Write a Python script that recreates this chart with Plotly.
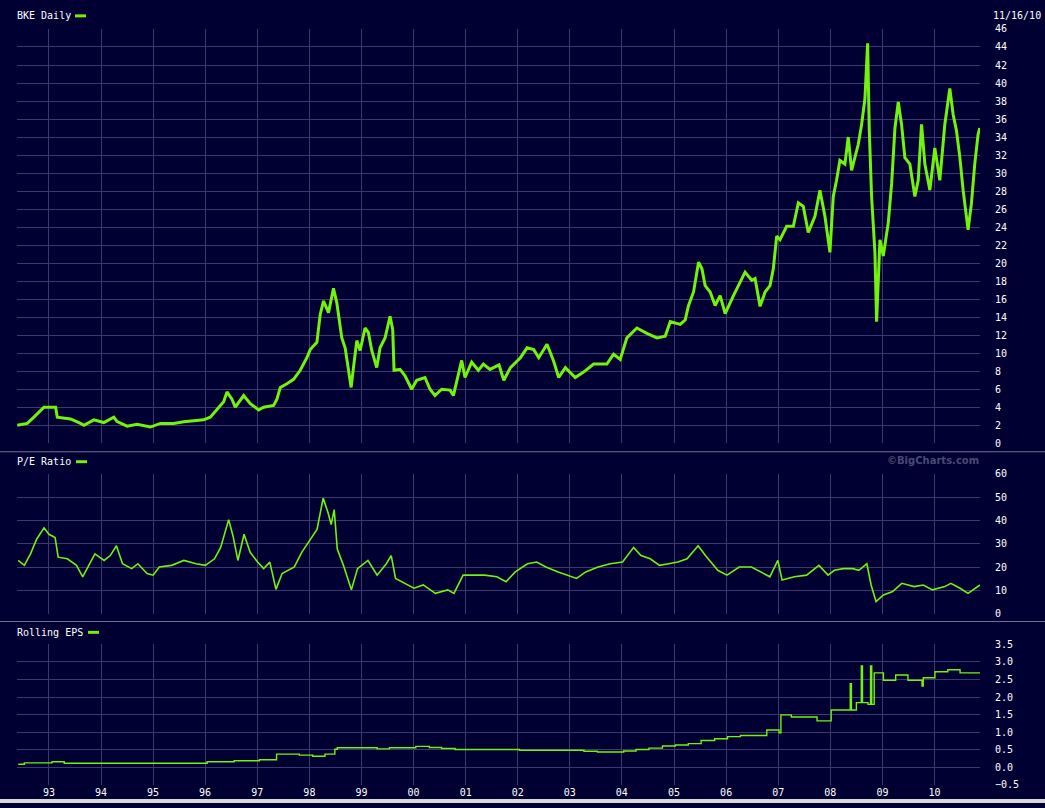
import plotly.graph_objects as go
from datetime import datetime

# ---------------- data ----------------
price_t = [1992.393, 1992.585, 1992.712, 1992.840, 1992.904, 1993.032, 1993.128, 1993.160, 1993.415, 1993.607,
           1993.671, 1993.863, 1994.054, 1994.246, 1994.310, 1994.502, 1994.693, 1994.949, 1995.141, 1995.396,
           1995.588, 1995.780, 1995.971, 1996.099, 1996.227, 1996.355, 1996.419, 1996.514, 1996.578, 1996.738,
           1996.866, 1997.026, 1997.121, 1997.313, 1997.377, 1997.441, 1997.569, 1997.696, 1997.824, 1997.952,
           1998.016, 1998.144, 1998.208, 1998.272, 1998.367, 1998.463, 1998.527, 1998.559, 1998.623, 1998.687,
           1998.751, 1998.802, 1998.847, 1998.911, 1998.974, 1999.070, 1999.134, 1999.198, 1999.294, 1999.358,
           1999.454, 1999.550, 1999.601, 1999.626, 1999.741, 1999.837, 1999.965, 2000.061, 2000.220, 2000.316,
           2000.412, 2000.540, 2000.700, 2000.764, 2000.923, 2000.987, 2001.115, 2001.243, 2001.339, 2001.466,
           2001.640, 2001.732, 2001.859, 2002.051, 2002.179, 2002.307, 2002.403, 2002.562, 2002.690, 2002.786,
           2002.914, 2003.105, 2003.265, 2003.457, 2003.712, 2003.840, 2003.968, 2004.096, 2004.288, 2004.479,
           2004.671, 2004.831, 2004.927, 2005.118, 2005.214, 2005.278, 2005.374, 2005.470, 2005.534, 2005.597,
           2005.693, 2005.789, 2005.885, 2005.981, 2006.141, 2006.268, 2006.364, 2006.492, 2006.556, 2006.652,
           2006.748, 2006.843, 2006.907, 2006.971, 2007.035, 2007.163, 2007.291, 2007.387, 2007.482, 2007.578,
           2007.706, 2007.802, 2007.898, 2007.994, 2008.058, 2008.121, 2008.185, 2008.281, 2008.345, 2008.409,
           2008.537, 2008.601, 2008.665, 2008.716, 2008.748, 2008.792, 2008.856, 2008.888, 2008.952, 2009.016,
           2009.112, 2009.176, 2009.240, 2009.304, 2009.367, 2009.431, 2009.527, 2009.623, 2009.687, 2009.751,
           2009.815, 2009.911, 2010.006, 2010.102, 2010.198, 2010.294, 2010.358, 2010.422, 2010.486, 2010.550,
           2010.613, 2010.645, 2010.709, 2010.773, 2010.837, 2010.869]
price_v = [2.0, 2.2, 2.9, 3.7, 4.0, 4.0, 4.0, 2.9, 2.7, 2.2,
           2.0, 2.6, 2.3, 2.9, 2.4, 1.9, 2.1, 1.8, 2.2, 2.2,
           2.4, 2.5, 2.6, 2.9, 3.7, 4.6, 5.7, 4.9, 4.0, 5.3,
           4.4, 3.7, 4.0, 4.2, 4.9, 6.2, 6.6, 7.1, 8.1, 9.5,
           10.4, 11.2, 14.3, 15.8, 14.5, 17.2, 15.6, 14.3, 11.7, 10.6,
           8.4, 6.2, 8.4, 11.4, 10.3, 12.8, 12.3, 10.3, 8.4, 10.6,
           11.7, 14.1, 12.6, 8.1, 8.2, 7.5, 6.0, 7.0, 7.3, 6.0,
           5.3, 6.0, 5.9, 5.3, 9.2, 7.3, 9.0, 8.1, 8.8, 8.2,
           8.7, 7.0, 8.4, 9.5, 10.6, 10.4, 9.5, 11.0, 9.1, 7.3,
           8.4, 7.3, 7.9, 8.8, 8.8, 9.9, 9.3, 11.7, 12.8, 12.2,
           11.7, 11.9, 13.5, 13.2, 13.7, 15.3, 16.8, 20.1, 19.4, 17.5,
           16.8, 15.3, 16.4, 14.4, 16.4, 17.9, 19.0, 18.1, 18.3, 15.2,
           16.8, 17.5, 19.4, 23.0, 22.6, 24.1, 24.1, 26.7, 26.3, 23.4,
           25.2, 28.1, 25.2, 21.2, 27.4, 29.2, 31.4, 31.0, 34.0, 30.3,
           33.2, 35.4, 38.3, 44.4, 34.7, 27.4, 21.2, 13.5, 22.6, 20.8,
           24.5, 28.8, 35.0, 37.9, 35.4, 31.7, 31.0, 27.4, 29.2, 35.4,
           31.0, 28.1, 32.8, 29.2, 35.4, 39.4, 36.5, 34.7, 31.8, 28.1,
           25.2, 23.7, 26.6, 31.0, 34.3, 35.0]

pe_t = [1992.411, 1992.529, 1992.647, 1992.764, 1992.906, 1993.000, 1993.118, 1993.177, 1993.353, 1993.530,
        1993.648, 1993.766, 1993.883, 1994.060, 1994.178, 1994.296, 1994.413, 1994.590, 1994.708, 1994.885,
        1995.002, 1995.120, 1995.356, 1995.591, 1995.827, 1996.004, 1996.180, 1996.298, 1996.451, 1996.534,
        1996.628, 1996.746, 1996.863, 1997.005, 1997.122, 1997.240, 1997.358, 1997.476, 1997.711, 1997.853,
        1998.006, 1998.147, 1998.265, 1998.359, 1998.418, 1998.477, 1998.536, 1998.654, 1998.807, 1998.925,
        1999.125, 1999.302, 1999.478, 1999.572, 1999.655, 1999.832, 2000.008, 2000.185, 2000.420, 2000.656,
        2000.774, 2000.951, 2001.127, 2001.363, 2001.598, 2001.775, 2001.952, 2002.187, 2002.364, 2002.541,
        2002.776, 2002.953, 2003.130, 2003.306, 2003.542, 2003.777, 2004.013, 2004.225, 2004.366, 2004.543,
        2004.720, 2004.896, 2005.073, 2005.250, 2005.462, 2005.603, 2005.839, 2006.015, 2006.251, 2006.487,
        2006.663, 2006.840, 2006.993, 2007.075, 2007.311, 2007.546, 2007.782, 2007.959, 2008.077, 2008.253,
        2008.430, 2008.548, 2008.701, 2008.783, 2008.877, 2009.019, 2009.196, 2009.372, 2009.608, 2009.784,
        2009.961, 2010.197, 2010.314, 2010.491, 2010.644, 2010.786, 2010.874]
pe_v = [22.9, 20.8, 25.7, 32.0, 36.9, 34.1, 32.7, 24.3, 23.6, 20.8,
        15.9, 20.8, 25.7, 22.9, 25.0, 29.2, 21.5, 19.4, 21.5, 17.3,
        16.6, 20.1, 20.8, 22.9, 21.5, 20.8, 23.6, 28.5, 40.4, 33.4,
        22.9, 34.1, 26.4, 22.2, 19.4, 22.2, 10.5, 17.3, 20.1, 26.4,
        31.3, 36.2, 49.6, 43.3, 38.3, 44.7, 27.8, 20.8, 10.3, 19.4,
        22.9, 16.6, 21.5, 25.0, 15.2, 13.1, 11.0, 12.4, 8.8, 10.3,
        8.8, 16.6, 16.6, 16.6, 15.9, 13.8, 18.0, 21.5, 22.2, 20.1,
        18.0, 16.6, 15.2, 18.0, 20.1, 21.5, 22.2, 28.5, 25.0, 23.6,
        20.8, 21.5, 22.2, 23.6, 29.2, 25.0, 18.7, 16.6, 20.1, 20.1,
        18.0, 15.9, 22.9, 14.5, 15.9, 16.6, 20.8, 16.6, 18.7, 19.4,
        19.4, 18.7, 21.5, 12.4, 5.3, 8.1, 9.6, 13.1, 11.7, 12.4,
        10.3, 11.7, 13.1, 11.0, 8.8, 11.0, 12.4]

eps_t = [1992.411, 1992.529, 1993.059, 1993.294, 1996.039, 1996.557, 1997.040, 1997.370, 1997.806, 1998.065,
         1998.300, 1998.489, 1998.536, 1999.302, 1999.537, 2000.044, 2000.303, 2000.538, 2000.797, 2002.034,
         2003.271, 2003.530, 2004.036, 2004.272, 2004.519, 2004.778, 2005.026, 2005.273, 2005.520, 2005.780,
         2006.027, 2006.274, 2006.781, 2007.016, 2007.052, 2007.252, 2007.747, 2008.018, 2008.383, 2008.406,
         2008.501, 2008.595, 2008.618, 2008.724, 2008.772, 2008.795, 2008.842, 2009.019, 2009.254, 2009.490,
         2009.761, 2009.784, 2010.008, 2010.256, 2010.491, 2010.874]
eps_v = [0.08, 0.12, 0.15, 0.11, 0.15, 0.18, 0.21, 0.37, 0.34, 0.31,
         0.37, 0.51, 0.55, 0.52, 0.55, 0.59, 0.56, 0.53, 0.50, 0.48,
         0.45, 0.43, 0.46, 0.50, 0.54, 0.60, 0.63, 0.67, 0.76, 0.81,
         0.87, 0.90, 1.06, 0.98, 1.49, 1.43, 1.32, 1.63, 2.38, 1.63,
         1.84, 2.89, 1.84, 1.79, 2.89, 1.79, 2.69, 2.48, 2.63, 2.48,
         2.31, 2.55, 2.72, 2.78, 2.69, 2.69]

year_ticks = list(range(1993, 2011))
year_labels = ["93", "94", "95", "96", "97", "98", "99", "00", "01", "02",
               "03", "04", "05", "06", "07", "08", "09", "10"]

# ---------------- helpers ----------------
def to_date(d):
    y = int(d)
    a = datetime(y, 1, 1)
    b = datetime(y + 1, 1, 1)
    return a + (b - a) * (d - y)

W, H = 1045, 808
ML, MR = 17, 65
PW = W - ML - MR

def px(x):
    return (x - ML) / PW

def py(y):
    return (H - y) / H

BG = "#000033"
GRID = "#3a3a6e"
GREEN = "#72f20c"
FONT = "DejaVu Sans Mono"

fig = go.Figure()
fig.add_trace(go.Scatter(x=[to_date(t) for t in price_t], y=price_v, mode="lines",
                         line=dict(color=GREEN, width=3), xaxis="x", yaxis="y", hoverinfo="skip"))
fig.add_trace(go.Scatter(x=[to_date(t) for t in pe_t], y=pe_v, mode="lines",
                         line=dict(color=GREEN, width=1.6), xaxis="x2", yaxis="y2", hoverinfo="skip"))
fig.add_trace(go.Scatter(x=[to_date(t) for t in eps_t], y=eps_v, mode="lines",
                         line=dict(color=GREEN, width=1.4, shape="hv"), xaxis="x3", yaxis="y3", hoverinfo="skip"))

xr = [datetime(1992, 5, 22), datetime(2010, 11, 16)]
tv = [datetime(y, 1, 1) for y in year_ticks]
xcommon = dict(type="date", range=xr, tickvals=tv, showgrid=True, gridcolor=GRID, gridwidth=1,
               zeroline=False, showline=False, ticks="", domain=[0, 1], fixedrange=True)

ycommon = dict(side="right", showgrid=True, gridcolor=GRID, gridwidth=1, zeroline=False, showline=False,
               ticks="outside", ticklen=12, tickcolor=BG, tickfont=dict(family=FONT, size=10, color="white"),
               fixedrange=True)

d_price = [py(443.3), py(23.3)]
d_pe = [py(616.3), py(474.3)]
d_eps = [py(789.3), py(647.3)]

fig.update_layout(
    width=W, height=H,
    margin=dict(l=ML, r=MR, t=0, b=0),
    paper_bgcolor=BG, plot_bgcolor=BG,
    showlegend=False,
    xaxis=dict(anchor="y", showticklabels=False, **xcommon),
    xaxis2=dict(anchor="y2", matches="x", showticklabels=False, **xcommon),
    xaxis3=dict(anchor="y3", matches="x", showticklabels=True, ticktext=year_labels,
                tickfont=dict(family=FONT, size=10, color="white"), **xcommon),
    yaxis=dict(anchor="x", domain=d_price, range=[0, 46], tick0=0, dtick=2, **ycommon),
    yaxis2=dict(anchor="x2", domain=d_pe, range=[0, 60], tick0=0, dtick=10, **ycommon),
    yaxis3=dict(anchor="x3", domain=d_eps, range=[-0.5, 3.5], tick0=-0.5, dtick=0.5, tickformat=".1f", **ycommon),
)

ann = []
def label(text, x, y, **kw):
    d = dict(text=text, x=px(x), y=py(y), xref="paper", yref="paper", showarrow=False,
             xanchor="left", yanchor="middle", font=dict(family=FONT, size=10, color="white"))
    d.update(kw)
    ann.append(d)

label("BKE Daily", 15, 10)
label("P/E Ratio", 15, 462)
label("Rolling EPS", 15, 635)
label("11/16/10", 991, 10)
ann.append(dict(text="<b>©BigCharts.com</b>", x=px(981), y=py(461), xref="paper", yref="paper",
                showarrow=False, xanchor="right", yanchor="middle",
                font=dict(family="DejaVu Sans", size=10, color="#4a4a72")))
fig.update_layout(annotations=ann)

shapes = []
def rect(x0, y0, x1, y1, color):
    shapes.append(dict(type="rect", xref="paper", yref="paper", x0=px(x0), x1=px(x1), y0=py(y0), y1=py(y1),
                       fillcolor=color, line=dict(width=0), layer="above"))

# legend swatches
rect(75, 8.5, 86, 11.5, GREEN)
rect(76, 460.5, 87, 463.5, GREEN)
rect(88, 633.5, 99, 636.5, GREEN)
# panel separators
rect(0, 451.5, W, 452.5, "#707090")
rect(0, 623.5, W, 624.5, "#707090")
# bottom page strip
rect(0, 804, W, H, "#d8d8d8")
fig.update_layout(shapes=shapes)

fig.write_html("out.html", config={"displayModeBar": False},
               post_script="document.body.style.margin='0';")
